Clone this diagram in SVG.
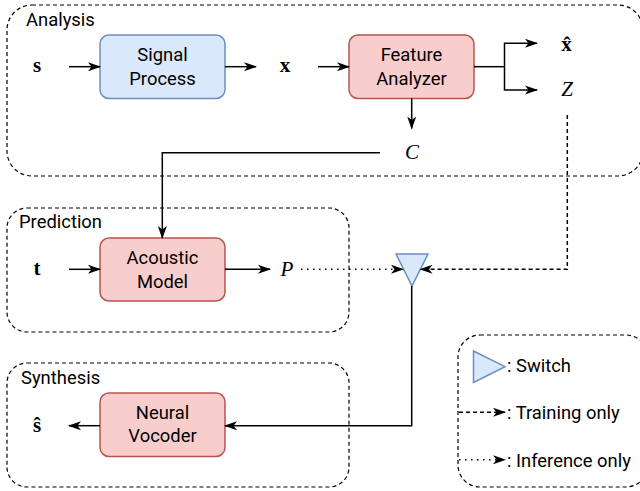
<svg xmlns="http://www.w3.org/2000/svg" width="640" height="491" viewBox="0 0 640 491">
  <style>
    .grp { fill: none; stroke: #000; stroke-width: 1.2; stroke-dasharray: 4 3; }
    .blue { fill: #dae8fc; stroke: #6c8ebf; stroke-width: 1.5; }
    .red { fill: #f8cecc; stroke: #b85450; stroke-width: 1.5; }
    .lbl { font-family: Roboto, "Liberation Sans", sans-serif; font-size: 18.4px; fill: #000; }
    .mid { text-anchor: middle; }
    .mb { font-family: "Liberation Serif", "DejaVu Serif", serif; font-weight: bold; font-size: 21px; fill: #000; text-anchor: middle; }
    .mi { font-family: "Liberation Serif", "DejaVu Serif", serif; font-style: italic; font-size: 21px; fill: #000; text-anchor: middle; }
    .wire { fill: none; stroke: #000; stroke-width: 1.5; }
    .dash { stroke-dasharray: 4 3; }
    .dot { stroke-dasharray: 1.5 4.5; }
  </style>
  <defs>
    <marker id="arr" markerUnits="userSpaceOnUse" markerWidth="14" markerHeight="10" viewBox="0 0 14 10" refX="12" refY="5" orient="auto">
      <path d="M0,0.5 L13,5 L0,9.5 L3.5,5 Z" fill="#000"/>
    </marker>
  </defs>

  <!-- Group frames -->
  <g id="analysis">
    <rect class="grp" x="7" y="5" width="636" height="171" rx="25"/>
    <text class="lbl" x="26" y="26">Analysis</text>
  </g>
  <g id="prediction">
    <rect class="grp" x="7" y="208" width="342" height="124" rx="20"/>
    <text class="lbl" x="19" y="228">Prediction</text>
  </g>
  <g id="synthesis">
    <rect class="grp" x="7" y="363" width="342" height="124" rx="20"/>
    <text class="lbl" x="21" y="384">Synthesis</text>
  </g>

  <!-- Processing blocks -->
  <g id="signal-process">
    <rect class="blue" x="100" y="35" width="125" height="63.5" rx="9"/>
    <text class="lbl mid" x="162.5" y="61">Signal</text>
    <text class="lbl mid" x="162.5" y="84.5">Process</text>
  </g>
  <g id="feature-analyzer">
    <rect class="red" x="349" y="35" width="125" height="63.5" rx="9"/>
    <text class="lbl mid" x="411.5" y="61">Feature</text>
    <text class="lbl mid" x="411.5" y="84.5">Analyzer</text>
  </g>
  <g id="acoustic-model">
    <rect class="red" x="100" y="238" width="125" height="63" rx="9"/>
    <text class="lbl mid" x="162.5" y="264">Acoustic</text>
    <text class="lbl mid" x="162.5" y="287.5">Model</text>
  </g>
  <g id="neural-vocoder">
    <rect class="red" x="100" y="393" width="125" height="63.5" rx="9"/>
    <text class="lbl mid" x="162.5" y="418.5">Neural</text>
    <text class="lbl mid" x="162.5" y="442">Vocoder</text>
  </g>
  <g id="switch">
    <polygon class="blue" points="396,254 428,254 412,286"/>
  </g>

  <!-- Signals -->
  <g id="signals">
    <text class="mb" x="37" y="72">s</text>
    <text class="mb" x="285" y="72">x</text>
    <text class="mb" x="566.5" y="51">x̂</text>
    <text class="mi" x="567" y="96">Z</text>
    <text class="mi" x="412" y="159">C</text>
    <text class="mb" x="37" y="275">t</text>
    <text class="mi" x="287" y="276">P</text>
    <text class="mb" x="37" y="432">ŝ</text>
  </g>

  <!-- Connectors -->
  <g id="connectors">
    <path class="wire" d="M69,66.7 H100" marker-end="url(#arr)"/>
    <path class="wire" d="M225,66.7 H256" marker-end="url(#arr)"/>
    <path class="wire" d="M318,66.7 H349" marker-end="url(#arr)"/>
    <path class="wire" d="M474,66.7 H504.5"/>
    <path class="wire" d="M504.5,66.7 V43.3 H537" marker-end="url(#arr)"/>
    <path class="wire" d="M504.5,66.7 V90 H537" marker-end="url(#arr)"/>
    <path class="wire" d="M411.7,98.5 V128.5" marker-end="url(#arr)"/>
    <path class="wire" d="M380,152.7 H162.3 V238" marker-end="url(#arr)"/>
    <path class="wire" d="M69,269.3 H100" marker-end="url(#arr)"/>
    <path class="wire" d="M225,269.3 H270" marker-end="url(#arr)"/>
    <path class="wire dot" d="M301,269.3 H403" marker-end="url(#arr)"/>
    <path class="wire dash" d="M567.3,115 V269.3 H420.5" marker-end="url(#arr)"/>
    <path class="wire" d="M411.7,286 V425.7 H225" marker-end="url(#arr)"/>
    <path class="wire" d="M100,425.7 H69" marker-end="url(#arr)"/>
  </g>

  <!-- Legend -->
  <g id="legend">
    <rect class="grp" x="458" y="335" width="190" height="152" rx="22"/>
    <polygon class="blue" points="473.5,351 505,366.7 473.5,382.5"/>
    <text class="lbl" x="507" y="372">: Switch</text>
    <path class="wire dash" d="M459,412.3 H505" marker-end="url(#arr)"/>
    <text class="lbl" x="507" y="419">: Training only</text>
    <path class="wire dot" d="M459,459.7 H505" marker-end="url(#arr)"/>
    <text class="lbl" x="507" y="466.5">: Inference only</text>
  </g>
</svg>
